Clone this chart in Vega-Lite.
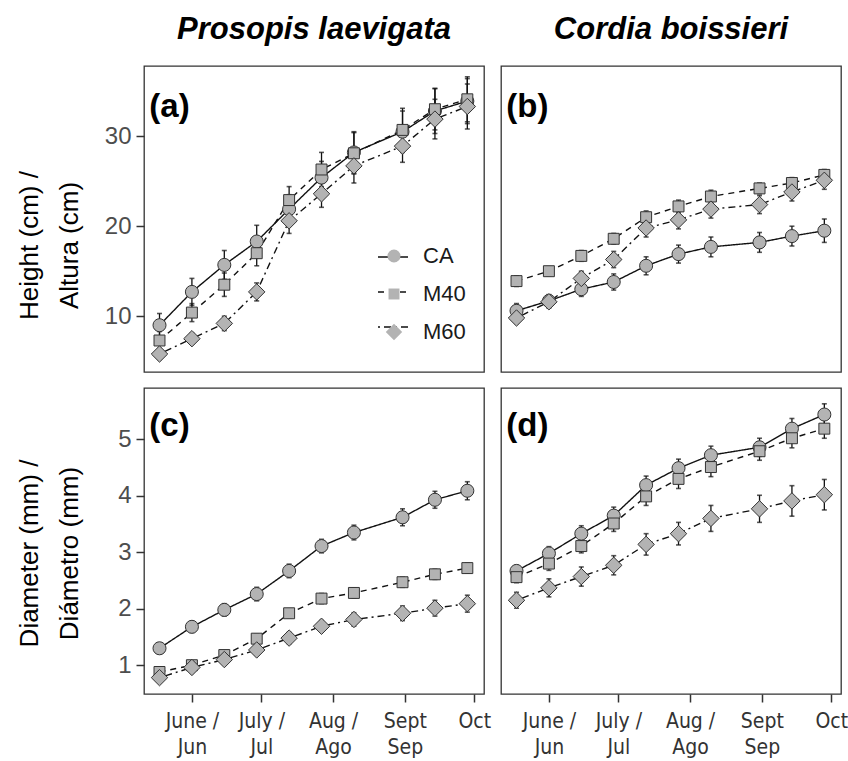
{
  "$schema": "https://vega.github.io/schema/vega-lite/v6.json",
  "padding": {"left": 15, "top": 13, "right": 2, "bottom": 2},
  "data": {"values": [
    {"panel":"a","trt":"CA","date":"2019-05-18","mean":9.0,"se":1.3},
    {"panel":"a","trt":"CA","date":"2019-06-01","mean":12.7,"se":1.5},
    {"panel":"a","trt":"CA","date":"2019-06-15","mean":15.7,"se":1.6},
    {"panel":"a","trt":"CA","date":"2019-06-29","mean":18.3,"se":1.8},
    {"panel":"a","trt":"CA","date":"2019-07-13","mean":21.9,"se":1.6},
    {"panel":"a","trt":"CA","date":"2019-07-27","mean":25.4,"se":1.8},
    {"panel":"a","trt":"CA","date":"2019-08-10","mean":28.2,"se":2.3},
    {"panel":"a","trt":"CA","date":"2019-08-31","mean":30.5,"se":2.3},
    {"panel":"a","trt":"CA","date":"2019-09-14","mean":32.8,"se":2.5},
    {"panel":"a","trt":"CA","date":"2019-09-28","mean":33.9,"se":2.5},
    {"panel":"a","trt":"M40","date":"2019-05-18","mean":7.3,"se":1.0},
    {"panel":"a","trt":"M40","date":"2019-06-01","mean":10.4,"se":1.0},
    {"panel":"a","trt":"M40","date":"2019-06-15","mean":13.5,"se":1.3},
    {"panel":"a","trt":"M40","date":"2019-06-29","mean":17.0,"se":1.4},
    {"panel":"a","trt":"M40","date":"2019-07-13","mean":22.9,"se":1.5},
    {"panel":"a","trt":"M40","date":"2019-07-27","mean":26.3,"se":1.9},
    {"panel":"a","trt":"M40","date":"2019-08-10","mean":28.1,"se":2.3},
    {"panel":"a","trt":"M40","date":"2019-08-31","mean":30.7,"se":2.4},
    {"panel":"a","trt":"M40","date":"2019-09-14","mean":33.0,"se":2.3},
    {"panel":"a","trt":"M40","date":"2019-09-28","mean":34.1,"se":2.5},
    {"panel":"a","trt":"M60","date":"2019-05-18","mean":5.8,"se":0.6},
    {"panel":"a","trt":"M60","date":"2019-06-01","mean":7.5,"se":0.6},
    {"panel":"a","trt":"M60","date":"2019-06-15","mean":9.2,"se":0.8},
    {"panel":"a","trt":"M60","date":"2019-06-29","mean":12.7,"se":1.0},
    {"panel":"a","trt":"M60","date":"2019-07-13","mean":20.6,"se":1.4},
    {"panel":"a","trt":"M60","date":"2019-07-27","mean":23.6,"se":1.5},
    {"panel":"a","trt":"M60","date":"2019-08-10","mean":26.7,"se":1.9},
    {"panel":"a","trt":"M60","date":"2019-08-31","mean":28.9,"se":1.8},
    {"panel":"a","trt":"M60","date":"2019-09-14","mean":31.9,"se":2.2},
    {"panel":"a","trt":"M60","date":"2019-09-28","mean":33.3,"se":2.5},
    {"panel":"b","trt":"CA","date":"2019-05-18","mean":10.6,"se":0.8},
    {"panel":"b","trt":"CA","date":"2019-06-01","mean":11.7,"se":0.7},
    {"panel":"b","trt":"CA","date":"2019-06-15","mean":13.0,"se":0.8},
    {"panel":"b","trt":"CA","date":"2019-06-29","mean":13.8,"se":0.9},
    {"panel":"b","trt":"CA","date":"2019-07-13","mean":15.6,"se":1.0},
    {"panel":"b","trt":"CA","date":"2019-07-27","mean":16.9,"se":1.0},
    {"panel":"b","trt":"CA","date":"2019-08-10","mean":17.7,"se":1.1},
    {"panel":"b","trt":"CA","date":"2019-08-31","mean":18.2,"se":1.1},
    {"panel":"b","trt":"CA","date":"2019-09-14","mean":18.9,"se":1.1},
    {"panel":"b","trt":"CA","date":"2019-09-28","mean":19.5,"se":1.3},
    {"panel":"b","trt":"M40","date":"2019-05-18","mean":13.9,"se":0.6},
    {"panel":"b","trt":"M40","date":"2019-06-01","mean":15.0,"se":0.5},
    {"panel":"b","trt":"M40","date":"2019-06-15","mean":16.7,"se":0.6},
    {"panel":"b","trt":"M40","date":"2019-06-29","mean":18.6,"se":0.6},
    {"panel":"b","trt":"M40","date":"2019-07-13","mean":21.0,"se":0.7},
    {"panel":"b","trt":"M40","date":"2019-07-27","mean":22.2,"se":0.7},
    {"panel":"b","trt":"M40","date":"2019-08-10","mean":23.3,"se":0.7},
    {"panel":"b","trt":"M40","date":"2019-08-31","mean":24.2,"se":0.6},
    {"panel":"b","trt":"M40","date":"2019-09-14","mean":24.8,"se":0.6},
    {"panel":"b","trt":"M40","date":"2019-09-28","mean":25.7,"se":0.6},
    {"panel":"b","trt":"M60","date":"2019-05-18","mean":9.8,"se":0.6},
    {"panel":"b","trt":"M60","date":"2019-06-01","mean":11.6,"se":0.7},
    {"panel":"b","trt":"M60","date":"2019-06-15","mean":14.2,"se":0.8},
    {"panel":"b","trt":"M60","date":"2019-06-29","mean":16.3,"se":0.9},
    {"panel":"b","trt":"M60","date":"2019-07-13","mean":19.8,"se":1.0},
    {"panel":"b","trt":"M60","date":"2019-07-27","mean":20.7,"se":1.0},
    {"panel":"b","trt":"M60","date":"2019-08-10","mean":21.9,"se":1.0},
    {"panel":"b","trt":"M60","date":"2019-08-31","mean":22.4,"se":1.0},
    {"panel":"b","trt":"M60","date":"2019-09-14","mean":23.8,"se":1.0},
    {"panel":"b","trt":"M60","date":"2019-09-28","mean":25.1,"se":1.0},
    {"panel":"c","trt":"CA","date":"2019-05-18","mean":1.30,"se":0.09},
    {"panel":"c","trt":"CA","date":"2019-06-01","mean":1.68,"se":0.10},
    {"panel":"c","trt":"CA","date":"2019-06-15","mean":1.98,"se":0.11},
    {"panel":"c","trt":"CA","date":"2019-06-29","mean":2.26,"se":0.12},
    {"panel":"c","trt":"CA","date":"2019-07-13","mean":2.67,"se":0.12},
    {"panel":"c","trt":"CA","date":"2019-07-27","mean":3.11,"se":0.12},
    {"panel":"c","trt":"CA","date":"2019-08-10","mean":3.35,"se":0.13},
    {"panel":"c","trt":"CA","date":"2019-08-31","mean":3.62,"se":0.15},
    {"panel":"c","trt":"CA","date":"2019-09-14","mean":3.93,"se":0.15},
    {"panel":"c","trt":"CA","date":"2019-09-28","mean":4.09,"se":0.16},
    {"panel":"c","trt":"M40","date":"2019-05-18","mean":0.88,"se":0.06},
    {"panel":"c","trt":"M40","date":"2019-06-01","mean":1.00,"se":0.06},
    {"panel":"c","trt":"M40","date":"2019-06-15","mean":1.18,"se":0.07},
    {"panel":"c","trt":"M40","date":"2019-06-29","mean":1.47,"se":0.08},
    {"panel":"c","trt":"M40","date":"2019-07-13","mean":1.92,"se":0.08},
    {"panel":"c","trt":"M40","date":"2019-07-27","mean":2.18,"se":0.09},
    {"panel":"c","trt":"M40","date":"2019-08-10","mean":2.28,"se":0.09},
    {"panel":"c","trt":"M40","date":"2019-08-31","mean":2.47,"se":0.09},
    {"panel":"c","trt":"M40","date":"2019-09-14","mean":2.61,"se":0.09},
    {"panel":"c","trt":"M40","date":"2019-09-28","mean":2.72,"se":0.09},
    {"panel":"c","trt":"M60","date":"2019-05-18","mean":0.78,"se":0.07},
    {"panel":"c","trt":"M60","date":"2019-06-01","mean":0.96,"se":0.08},
    {"panel":"c","trt":"M60","date":"2019-06-15","mean":1.10,"se":0.08},
    {"panel":"c","trt":"M60","date":"2019-06-29","mean":1.27,"se":0.09},
    {"panel":"c","trt":"M60","date":"2019-07-13","mean":1.48,"se":0.10},
    {"panel":"c","trt":"M60","date":"2019-07-27","mean":1.69,"se":0.10},
    {"panel":"c","trt":"M60","date":"2019-08-10","mean":1.81,"se":0.12},
    {"panel":"c","trt":"M60","date":"2019-08-31","mean":1.92,"se":0.13},
    {"panel":"c","trt":"M60","date":"2019-09-14","mean":2.01,"se":0.14},
    {"panel":"c","trt":"M60","date":"2019-09-28","mean":2.09,"se":0.15},
    {"panel":"d","trt":"CA","date":"2019-05-18","mean":2.67,"se":0.10},
    {"panel":"d","trt":"CA","date":"2019-06-01","mean":2.98,"se":0.12},
    {"panel":"d","trt":"CA","date":"2019-06-15","mean":3.33,"se":0.14},
    {"panel":"d","trt":"CA","date":"2019-06-29","mean":3.65,"se":0.15},
    {"panel":"d","trt":"CA","date":"2019-07-13","mean":4.19,"se":0.16},
    {"panel":"d","trt":"CA","date":"2019-07-27","mean":4.49,"se":0.16},
    {"panel":"d","trt":"CA","date":"2019-08-10","mean":4.72,"se":0.16},
    {"panel":"d","trt":"CA","date":"2019-08-31","mean":4.86,"se":0.16},
    {"panel":"d","trt":"CA","date":"2019-09-14","mean":5.19,"se":0.18},
    {"panel":"d","trt":"CA","date":"2019-09-28","mean":5.44,"se":0.19},
    {"panel":"d","trt":"M40","date":"2019-05-18","mean":2.56,"se":0.10},
    {"panel":"d","trt":"M40","date":"2019-06-01","mean":2.80,"se":0.12},
    {"panel":"d","trt":"M40","date":"2019-06-15","mean":3.11,"se":0.12},
    {"panel":"d","trt":"M40","date":"2019-06-29","mean":3.51,"se":0.14},
    {"panel":"d","trt":"M40","date":"2019-07-13","mean":3.99,"se":0.16},
    {"panel":"d","trt":"M40","date":"2019-07-27","mean":4.30,"se":0.17},
    {"panel":"d","trt":"M40","date":"2019-08-10","mean":4.51,"se":0.17},
    {"panel":"d","trt":"M40","date":"2019-08-31","mean":4.79,"se":0.16},
    {"panel":"d","trt":"M40","date":"2019-09-14","mean":5.02,"se":0.17},
    {"panel":"d","trt":"M40","date":"2019-09-28","mean":5.19,"se":0.17},
    {"panel":"d","trt":"M60","date":"2019-05-18","mean":2.15,"se":0.14},
    {"panel":"d","trt":"M60","date":"2019-06-01","mean":2.37,"se":0.16},
    {"panel":"d","trt":"M60","date":"2019-06-15","mean":2.57,"se":0.17},
    {"panel":"d","trt":"M60","date":"2019-06-29","mean":2.77,"se":0.17},
    {"panel":"d","trt":"M60","date":"2019-07-13","mean":3.14,"se":0.19},
    {"panel":"d","trt":"M60","date":"2019-07-27","mean":3.33,"se":0.20},
    {"panel":"d","trt":"M60","date":"2019-08-10","mean":3.60,"se":0.23},
    {"panel":"d","trt":"M60","date":"2019-08-31","mean":3.77,"se":0.24},
    {"panel":"d","trt":"M60","date":"2019-09-14","mean":3.91,"se":0.27},
    {"panel":"d","trt":"M60","date":"2019-09-28","mean":4.02,"se":0.27}
  ]},
  "spacing": 14,
  "vconcat": [
    {
      "spacing": 17,
      "bounds": "flush",
      "hconcat": [
        {
          "width": 340, "height": 306,
          "title": {"text": "Prosopis laevigata"},
          "layer": [
            {
              "transform": [{"filter": "datum.panel === 'a'"}],
              "encoding": {
                "x": {"field": "date", "type": "temporal", "scale": {"type": "utc", "nice": false, "domain": [{"year":2019,"month":5,"date":11,"hours":7,"minutes":12,"utc":true},{"year":2019,"month":10,"date":5,"hours":4,"minutes":48,"utc":true}]}, "axis": null},
                "y": {"field": "mean", "type": "quantitative", "scale": {"domain": [3.8, 37.8], "nice": false, "zero": false}, "axis": {"title": ["Height (cm) /", "Altura (cm)"], "values": [10, 20, 30], "titleY": 179}}
              },
              "layer": [
                {"mark": {"type": "errorbar", "color": "#111111", "thickness": 1.3, "ticks": {"size": 5, "thickness": 1.6}}, "encoding": {"yError": {"field": "se"}}},
                {"mark": {"type": "line", "color": "#111111", "strokeWidth": 1.4},
                 "encoding": {"strokeDash": {"field": "trt", "type": "nominal", "scale": {"range": [[1, 0], [6, 5], [2, 4, 7, 4]]},
                   "legend": {"orient": "none", "legendX": 233, "legendY": 175, "title": null, "padding": 0, "symbolSize": 900, "symbolStrokeWidth": 1.4, "symbolStrokeColor": "#111111", "labelExpr": "''", "labelFontSize": 22, "rowPadding": 8, "zindex": 1}}}},
                {"mark": {"type": "point", "filled": true, "fill": "#b3b3b3", "stroke": "#333333", "strokeWidth": 1, "opacity": 1, "size": 170},
                 "encoding": {
                   "shape": {"field": "trt", "type": "nominal", "scale": {"domain": ["CA", "M40", "M60"], "range": ["circle", "M-0.84,-0.84H0.84V0.84H-0.84Z", "M0,-1.26L1.26,0L0,1.26L-1.26,0Z"]},
                     "legend": {"orient": "none", "legendX": 239, "legendY": 179, "title": null, "padding": 0, "symbolSize": 170, "labelFontSize": 22, "labelColor": "#1a1a1a", "labelOffset": 18, "rowPadding": 16, "symbolFillColor": "#b3b3b3", "symbolStrokeColor": "#333333", "symbolStrokeWidth": 1, "symbolOpacity": 1, "zindex": 2,
                       "encode": {"symbols": {"update": {"fill": {"value": "#b3b3b3"}, "stroke": {"value": "#333333"}, "strokeWidth": {"value": 1}, "opacity": {"value": 1}}}}}}
                 }}
              ]
            },
            {
              "data": {"values": [{"label": "(a)"}]},
              "mark": {"type": "text", "fontSize": 33, "fontWeight": "bold", "align": "left", "baseline": "middle", "color": "black"},
              "encoding": {
                "x": {"datum": {"year":2019,"month":5,"date":13,"hours":14,"utc":true}, "type": "temporal", "axis": null},
                "y": {"datum": 33.3, "type": "quantitative"},
                "text": {"field": "label"}
              }
            }
          ]
        },
        {
          "width": 340, "height": 306,
          "title": {"text": "Cordia boissieri"},
          "layer": [
            {
              "transform": [{"filter": "datum.panel === 'b'"}],
              "encoding": {
                "x": {"field": "date", "type": "temporal", "scale": {"type": "utc", "nice": false, "domain": [{"year":2019,"month":5,"date":11,"hours":7,"minutes":12,"utc":true},{"year":2019,"month":10,"date":5,"hours":4,"minutes":48,"utc":true}]}, "axis": null},
                "y": {"field": "mean", "type": "quantitative", "scale": {"domain": [3.8, 37.8], "nice": false, "zero": false}, "axis": null}
              },
              "layer": [
                {"mark": {"type": "errorbar", "color": "#111111", "thickness": 1.3, "ticks": {"size": 5, "thickness": 1.6}}, "encoding": {"yError": {"field": "se"}}},
                {"mark": {"type": "line", "color": "#111111", "strokeWidth": 1.4},
                 "encoding": {"strokeDash": {"field": "trt", "type": "nominal", "scale": {"range": [[1, 0], [6, 5], [2, 4, 7, 4]]}, "legend": null}}},
                {"mark": {"type": "point", "filled": true, "fill": "#b3b3b3", "stroke": "#333333", "strokeWidth": 1, "opacity": 1, "size": 170},
                 "encoding": {
                   "shape": {"field": "trt", "type": "nominal", "scale": {"domain": ["CA", "M40", "M60"], "range": ["circle", "M-0.84,-0.84H0.84V0.84H-0.84Z", "M0,-1.26L1.26,0L0,1.26L-1.26,0Z"]}, "legend": null}
                 }}
              ]
            },
            {
              "data": {"values": [{"label": "(b)"}]},
              "mark": {"type": "text", "fontSize": 33, "fontWeight": "bold", "align": "left", "baseline": "middle", "color": "black"},
              "encoding": {
                "x": {"datum": {"year":2019,"month":5,"date":13,"hours":14,"utc":true}, "type": "temporal", "axis": null},
                "y": {"datum": 33.3, "type": "quantitative", "axis": null},
                "text": {"field": "label"}
              }
            }
          ]
        }
      ]
    },
    {
      "spacing": 17,
      "bounds": "flush",
      "hconcat": [
        {
          "width": 340, "height": 306,
          "layer": [
            {
              "transform": [{"filter": "datum.panel === 'c'"}],
              "encoding": {
                "x": {"field": "date", "type": "temporal", "scale": {"type": "utc", "nice": false, "domain": [{"year":2019,"month":5,"date":11,"hours":7,"minutes":12,"utc":true},{"year":2019,"month":10,"date":5,"hours":4,"minutes":48,"utc":true}]},
                  "axis": {"title": null, "values": [{"year":2019,"month":6,"date":1,"utc":true},{"year":2019,"month":7,"date":1,"utc":true},{"year":2019,"month":8,"date":1,"utc":true},{"year":2019,"month":9,"date":1,"utc":true},{"year":2019,"month":10,"date":1,"utc":true}], "labelExpr": "[['June /','Jun'],['July /','Jul'],['Aug /','Ago'],['Sept','Sep'],['Oct','']][utcmonth(datum.value)-5]", "labelOverlap": false}},
                "y": {"field": "mean", "type": "quantitative", "scale": {"domain": [0.49, 5.91], "nice": false, "zero": false}, "axis": {"title": ["Diameter (mm) /", "Diámetro (mm)"], "values": [1, 2, 3, 4, 5], "format": "d", "titleY": 165}}
              },
              "layer": [
                {"mark": {"type": "errorbar", "color": "#111111", "thickness": 1.3, "ticks": {"size": 5, "thickness": 1.6}}, "encoding": {"yError": {"field": "se"}}},
                {"mark": {"type": "line", "color": "#111111", "strokeWidth": 1.4},
                 "encoding": {"strokeDash": {"field": "trt", "type": "nominal", "scale": {"range": [[1, 0], [6, 5], [2, 4, 7, 4]]}, "legend": null}}},
                {"mark": {"type": "point", "filled": true, "fill": "#b3b3b3", "stroke": "#333333", "strokeWidth": 1, "opacity": 1, "size": 170},
                 "encoding": {
                   "shape": {"field": "trt", "type": "nominal", "scale": {"domain": ["CA", "M40", "M60"], "range": ["circle", "M-0.84,-0.84H0.84V0.84H-0.84Z", "M0,-1.26L1.26,0L0,1.26L-1.26,0Z"]}, "legend": null}
                 }}
              ]
            },
            {
              "data": {"values": [{"label": "(c)"}]},
              "mark": {"type": "text", "fontSize": 33, "fontWeight": "bold", "align": "left", "baseline": "middle", "color": "black"},
              "encoding": {
                "x": {"datum": {"year":2019,"month":5,"date":13,"hours":14,"utc":true}, "type": "temporal"},
                "y": {"datum": 5.24, "type": "quantitative"},
                "text": {"field": "label"}
              }
            }
          ]
        },
        {
          "width": 340, "height": 306,
          "layer": [
            {
              "transform": [{"filter": "datum.panel === 'd'"}],
              "encoding": {
                "x": {"field": "date", "type": "temporal", "scale": {"type": "utc", "nice": false, "domain": [{"year":2019,"month":5,"date":11,"hours":7,"minutes":12,"utc":true},{"year":2019,"month":10,"date":5,"hours":4,"minutes":48,"utc":true}]},
                  "axis": {"title": null, "values": [{"year":2019,"month":6,"date":1,"utc":true},{"year":2019,"month":7,"date":1,"utc":true},{"year":2019,"month":8,"date":1,"utc":true},{"year":2019,"month":9,"date":1,"utc":true},{"year":2019,"month":10,"date":1,"utc":true}], "labelExpr": "[['June /','Jun'],['July /','Jul'],['Aug /','Ago'],['Sept','Sep'],['Oct','']][utcmonth(datum.value)-5]", "labelOverlap": false}},
                "y": {"field": "mean", "type": "quantitative", "scale": {"domain": [0.49, 5.91], "nice": false, "zero": false}, "axis": null}
              },
              "layer": [
                {"mark": {"type": "errorbar", "color": "#111111", "thickness": 1.3, "ticks": {"size": 5, "thickness": 1.6}}, "encoding": {"yError": {"field": "se"}}},
                {"mark": {"type": "line", "color": "#111111", "strokeWidth": 1.4},
                 "encoding": {"strokeDash": {"field": "trt", "type": "nominal", "scale": {"range": [[1, 0], [6, 5], [2, 4, 7, 4]]}, "legend": null}}},
                {"mark": {"type": "point", "filled": true, "fill": "#b3b3b3", "stroke": "#333333", "strokeWidth": 1, "opacity": 1, "size": 170},
                 "encoding": {
                   "shape": {"field": "trt", "type": "nominal", "scale": {"domain": ["CA", "M40", "M60"], "range": ["circle", "M-0.84,-0.84H0.84V0.84H-0.84Z", "M0,-1.26L1.26,0L0,1.26L-1.26,0Z"]}, "legend": null}
                 }}
              ]
            },
            {
              "data": {"values": [{"label": "(d)"}]},
              "mark": {"type": "text", "fontSize": 33, "fontWeight": "bold", "align": "left", "baseline": "middle", "color": "black"},
              "encoding": {
                "x": {"datum": {"year":2019,"month":5,"date":13,"hours":14,"utc":true}, "type": "temporal"},
                "y": {"datum": 5.24, "type": "quantitative", "axis": null},
                "text": {"field": "label"}
              }
            }
          ]
        }
      ]
    }
  ],
  "config": {
    "font": "Liberation Sans",
    "background": "white",
    "view": {"stroke": "#333333", "strokeWidth": 1.3},
    "axis": {"domain": false, "grid": false, "tickColor": "#333333", "tickWidth": 1.5, "tickSize": 8, "labelColor": "#4d4d4d", "labelFontSize": 24, "labelPadding": 5, "titleColor": "black", "titleFontWeight": "normal", "titleFontSize": 26, "titleLineHeight": 40},
    "axisY": {"minExtent": 42, "maxExtent": 42, "titlePadding": 20},
    "axisX": {"labelFont": "Liberation Sans Narrow, DejaVu Sans Condensed, Liberation Sans", "labelFontSize": 21, "labelLineHeight": 26, "labelColor": "#333333", "labelPadding": 8},
    "title": {"fontSize": 31, "fontWeight": "bold", "fontStyle": "italic", "color": "black", "offset": 20, "baseline": "alphabetic"},
    "legend": {"labelFont": "Liberation Sans"}
  }
}
